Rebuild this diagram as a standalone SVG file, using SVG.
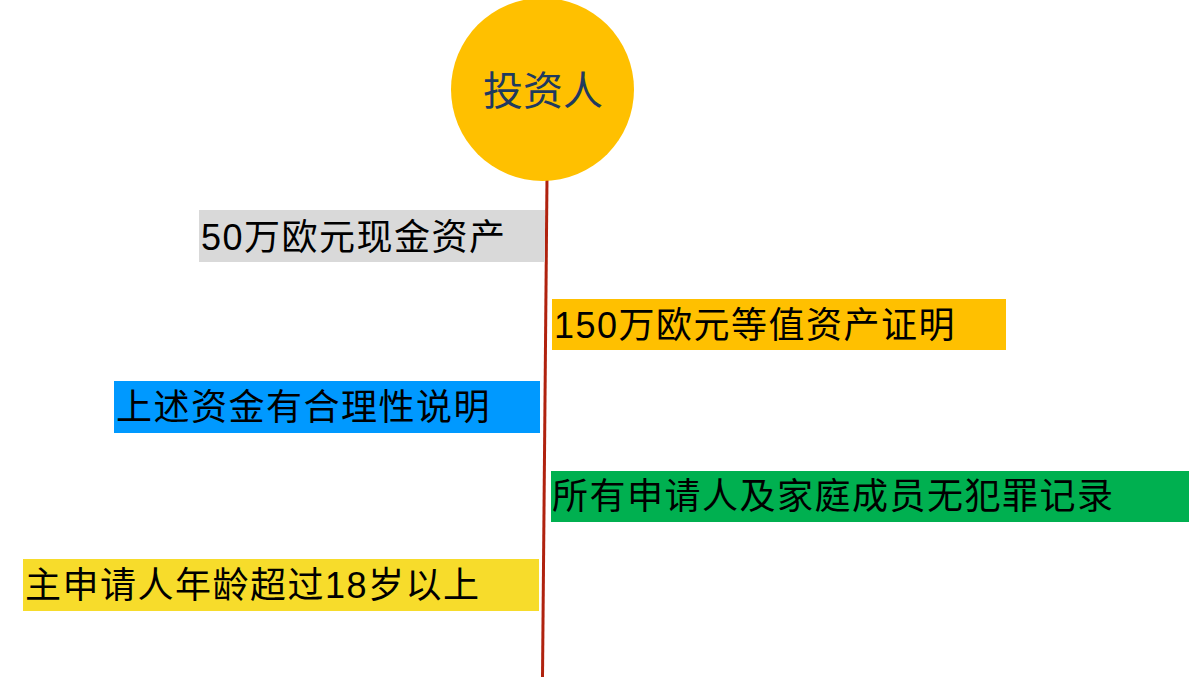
<svg xmlns="http://www.w3.org/2000/svg" width="1189" height="678" viewBox="0 0 1189 678">
<style>
.t{font-family:"Liberation Sans","Noto Sans CJK SC",sans-serif;font-size:36px;fill:#000;letter-spacing:1.5px}
.c{font-family:"Noto Sans CJK SC",sans-serif;font-size:40px;fill:#1F3A5F;text-anchor:middle}
</style>
<rect width="1189" height="678" fill="#fff"/>
<g id="connectors">
<line x1="547" y1="178" x2="542.5" y2="677" stroke="#B0220E" stroke-width="3"/>
</g>
<g id="investor">
<circle cx="542.5" cy="89.5" r="91.5" fill="#FFC000"/>
<text class="c" x="543" y="105">投资人</text>
</g>
<g id="n1">
<rect x="199" y="210" width="346" height="52" fill="#D9D9D9"/>
<text class="t" x="201" y="250">50万欧元现金资产</text>
</g>
<g id="n2">
<rect x="552" y="299" width="454" height="51" fill="#FFC000"/>
<text class="t" x="554" y="338">150万欧元等值资产证明</text>
</g>
<g id="n3">
<rect x="114" y="381" width="426" height="52" fill="#0099FF"/>
<text class="t" x="116" y="420">上述资金有合理性说明</text>
</g>
<g id="n4">
<rect x="551" y="471" width="638" height="51" fill="#00B050"/>
<text class="t" x="552" y="509">所有申请人及家庭成员无犯罪记录</text>
</g>
<g id="n5">
<rect x="23" y="559" width="516" height="52" fill="#F7DC2B"/>
<text class="t" x="25" y="598">主申请人年龄超过18岁以上</text>
</g>
</svg>
